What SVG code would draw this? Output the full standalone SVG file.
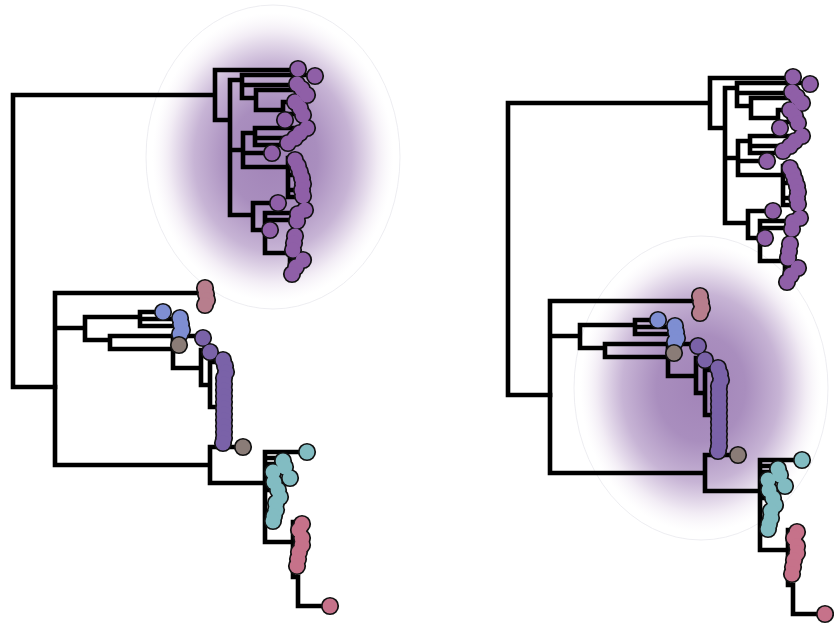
<svg xmlns="http://www.w3.org/2000/svg" xmlns:xlink="http://www.w3.org/1999/xlink" width="834" height="624" viewBox="0 0 834 624">
<style>
.br{fill:none;stroke:#000;stroke-width:4.6;stroke-linecap:square;stroke-linejoin:miter}
.ol{fill:#111;stroke:#111;stroke-width:3.4}
.fl{stroke:none}
.halo{fill:url(#hg);stroke:#e8e8ee;stroke-width:0.8}
</style>
<defs>
<radialGradient id="hg" cx="0.5" cy="0.5" r="0.5">
<stop offset="0" stop-color="#a284b8"/>
<stop offset="0.35" stop-color="#a98ebe"/>
<stop offset="0.62" stop-color="#c7b4d5"/>
<stop offset="0.82" stop-color="#f1ebf4"/>
<stop offset="0.95" stop-color="#ffffff" stop-opacity="0.5"/>
<stop offset="1" stop-color="#ffffff" stop-opacity="0"/>
</radialGradient>
<g id="c-upper">
<circle cx="298" cy="69" r="7.4"/><circle cx="315" cy="76" r="7.4"/>
<circle cx="297" cy="84" r="7.4"/><circle cx="302" cy="89" r="7.4"/><circle cx="307" cy="95" r="7.4"/>
<circle cx="295" cy="102" r="7.4"/><circle cx="300" cy="108" r="7.4"/><circle cx="303" cy="115" r="7.4"/>
<circle cx="285" cy="120" r="7.4"/><circle cx="307" cy="128" r="7.4"/><circle cx="300" cy="133" r="7.4"/>
<circle cx="295" cy="138" r="7.4"/><circle cx="288" cy="143" r="7.4"/><circle cx="272" cy="153" r="7.4"/>
<circle cx="295" cy="160" r="7.4"/><circle cx="298" cy="166" r="7.4"/><circle cx="300" cy="172" r="7.4"/>
<circle cx="302" cy="178" r="7.4"/><circle cx="303" cy="184" r="7.4"/><circle cx="302" cy="190" r="7.4"/>
<circle cx="303" cy="196" r="7.4"/><circle cx="278" cy="203" r="7.4"/><circle cx="305" cy="210" r="7.4"/>
<circle cx="298" cy="214" r="7.4"/><circle cx="297" cy="221" r="7.4"/><circle cx="270" cy="230" r="7.4"/>
<circle cx="295" cy="236" r="7.4"/><circle cx="294" cy="243" r="7.4"/><circle cx="293" cy="250" r="7.4"/>
<circle cx="303" cy="260" r="7.4"/><circle cx="296" cy="267" r="7.4"/><circle cx="292" cy="274" r="7.4"/>
</g>
<g id="c-mauve">
<circle cx="205" cy="288" r="7.4"/><circle cx="206" cy="294" r="7.4"/><circle cx="207" cy="300" r="7.4"/><circle cx="205" cy="305" r="7.4"/>
</g>
<g id="c-blue">
<circle cx="163" cy="312" r="7.4"/><circle cx="180" cy="318" r="7.4"/><circle cx="181" cy="324" r="7.4"/><circle cx="182" cy="330" r="7.4"/><circle cx="180" cy="334" r="7.4"/>
</g>
<g id="c-lav">
<circle cx="203" cy="338" r="7.4"/><circle cx="210" cy="352" r="7.4"/>
<circle cx="223" cy="360" r="7.4"/><circle cx="225" cy="366" r="7.4"/><circle cx="226" cy="372" r="7.4"/><circle cx="224" cy="378" r="7.4"/>
<circle cx="224" cy="384" r="7.4"/><circle cx="224" cy="390" r="7.4"/><circle cx="224" cy="396" r="7.4"/><circle cx="224" cy="402" r="7.4"/>
<circle cx="224" cy="408" r="7.4"/><circle cx="224" cy="414" r="7.4"/><circle cx="224" cy="420" r="7.4"/><circle cx="224" cy="426" r="7.4"/>
<circle cx="224" cy="432" r="7.4"/><circle cx="224" cy="438" r="7.4"/><circle cx="223" cy="443" r="7.4"/>
</g>
<g id="c-gray">
<circle cx="179" cy="345" r="7.4"/><circle cx="243" cy="447" r="7.4"/>
</g>
<g id="c-teal">
<circle cx="307" cy="452" r="7.4"/><circle cx="283" cy="461" r="7.4"/><circle cx="285" cy="467" r="7.4"/>
<circle cx="273" cy="472" r="7.4"/><circle cx="290" cy="478" r="7.4"/><circle cx="274" cy="482" r="7.4"/>
<circle cx="278" cy="490" r="7.4"/><circle cx="280" cy="497" r="7.4"/><circle cx="276" cy="503" r="7.4"/>
<circle cx="276" cy="510" r="7.4"/><circle cx="274" cy="516" r="7.4"/><circle cx="273" cy="521" r="7.4"/>
</g>
<g id="c-pink">
<circle cx="302" cy="524" r="7.4"/><circle cx="299" cy="530" r="7.4"/><circle cx="302" cy="538" r="7.4"/>
<circle cx="302" cy="545" r="7.4"/><circle cx="299" cy="552" r="7.4"/><circle cx="298" cy="559" r="7.4"/>
<circle cx="297" cy="566" r="7.4"/><circle cx="330" cy="606" r="7.4"/>
</g>
<g id="tree">
<g id="connectors">
<path class="br" d="M13 387V95H215M13 387H55
M215 70V120M215 70H292M215 120H230
M230 80V215M230 80H242M242 75V98M242 75H308M242 85H297M242 98H256
M256 90V110M256 90H302M256 110H283M283 102V122M283 102H300M283 114H303M283 122H286
M230 150H243M243 133V167M243 133H255M255 128V145M255 128H307M255 138H295M255 145H288M243 153H272M243 167H288
M288 158V197M288 160H298M288 175H300M288 190H302M288 197H303
M230 215H253M253 203V230M253 203H278M253 230H265M265 213V253M265 213H305M265 220H297M265 230H270M265 253H290
M290 235V272M290 235H295M290 250H293M290 260H303M290 272H292"/>
<path class="br" d="M55 293V465M55 293H200M55 328H85M85 317V340M85 317H140M140 312V326M140 312H160M140 319H178M140 326H178
M85 340H110M110 336V349M110 336H197M110 349H173M173 340V368M173 345H179M173 368H201M201 350V385M201 352H210M201 385H210
M210 362V407M210 362H222M210 407H222
M55 465H210M210 447V483M210 447H243M210 483H265M265 452V542M265 452H307M265 458H282M265 464H282M265 470H273M265 490H275M265 542H293
M293 522V577H298V606H330"/>
</g>
<g id="clade-upper"><use xlink:href="#c-upper" class="ol"/><use xlink:href="#c-upper" class="fl" fill="#8f5fa7"/></g>
<g id="clade-mauve"><use xlink:href="#c-mauve" class="ol"/><use xlink:href="#c-mauve" class="fl" fill="#b77e8d"/></g>
<g id="clade-blue"><use xlink:href="#c-blue" class="ol"/><use xlink:href="#c-blue" class="fl" fill="#7e8ed2"/></g>
<g id="clade-lavender"><use xlink:href="#c-lav" class="ol"/><use xlink:href="#c-lav" class="fl" fill="#7a62a8"/></g>
<g id="tips-gray"><use xlink:href="#c-gray" class="ol"/><use xlink:href="#c-gray" class="fl" fill="#8a7c77"/></g>
<g id="clade-teal"><use xlink:href="#c-teal" class="ol"/><use xlink:href="#c-teal" class="fl" fill="#82bcc2"/></g>
<g id="clade-pink"><use xlink:href="#c-pink" class="ol"/><use xlink:href="#c-pink" class="fl" fill="#c6728a"/></g>
</g>
</defs>
<rect width="834" height="624" fill="#fff"/>
<g id="halo-left"><ellipse class="halo" cx="273" cy="157" rx="127" ry="152"/></g>
<g id="halo-right"><ellipse class="halo" cx="701" cy="388" rx="127" ry="152"/></g>
<g id="tree-left"><use xlink:href="#tree"/></g>
<g id="tree-right"><use xlink:href="#tree" transform="translate(495,8)"/></g>
</svg>
